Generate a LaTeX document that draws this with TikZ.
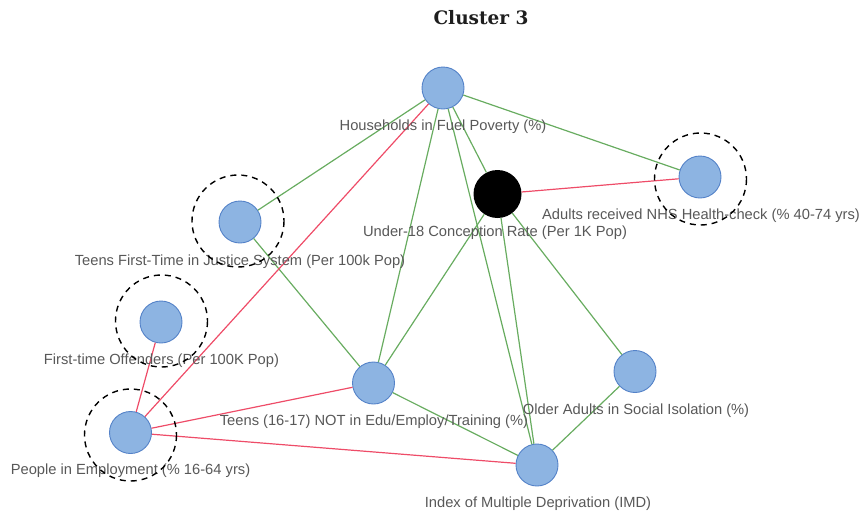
\documentclass[tikz,border=0pt]{standalone}
\usepackage{fontspec}
\setmainfont{Liberation Sans}
\newfontfamily\titlefont{DejaVu Serif}
\begin{document}
\begin{tikzpicture}[x=1pt,y=-1pt,
  vertex/.style={circle,minimum size=42pt,inner sep=0pt,fill={rgb,255:red,141;green,180;blue,226},draw={rgb,255:red,84;green,130;blue,200},line width=0.9pt},
  hub/.style={circle,minimum size=48pt,inner sep=0pt,fill=black},
  ring/.style={draw=black,dash pattern=on 6pt off 5pt,line width=1.4pt},
  plink/.style={draw={rgb,255:red,104;green,172;blue,96},line width=1.2pt},
  nlink/.style={draw={rgb,255:red,238;green,76;blue,104},line width=1.2pt},
  lbl/.style={text={rgb,255:red,88;green,88;blue,88},font=\fontsize{14.7}{16}\selectfont,inner sep=0pt}]
\useasboundingbox (0,0) rectangle (864,515);

% title
\node[font=\titlefont\bfseries\fontsize{18.5}{21}\selectfont,text={rgb,255:red,30;green,30;blue,30}] (title) at (481,18) {Cluster 3};

% nodes
\node[vertex] (fuel) at (443,88) {};
\node[hub] (conc) at (497.5,194) {};
\node[vertex] (nhs) at (700,177) {};
\node[vertex] (justice) at (240,222) {};
\node[vertex] (offend) at (161,322) {};
\node[vertex] (neet) at (373.5,383) {};
\node[vertex] (iso) at (635,371.5) {};
\node[vertex] (emp) at (130.5,432.5) {};
\node[vertex] (imd) at (537,465) {};

% connectors: green for positive, red for negative links
\path[plink] (fuel) -- (justice);
\path[plink] (fuel) -- (nhs);
\path[plink] (fuel) -- (conc);
\path[plink] (fuel) -- (neet);
\path[plink] (fuel) -- (imd);
\path[plink] (conc) -- (neet);
\path[plink] (conc) -- (imd);
\path[plink] (conc) -- (iso);
\path[plink] (justice) -- (neet);
\path[plink] (neet) -- (imd);
\path[plink] (iso) -- (imd);
\path[nlink] (fuel) -- (emp);
\path[nlink] (conc) -- (nhs);
\path[nlink] (offend) -- (emp);
\path[nlink] (emp) -- (neet);
\path[nlink] (emp) -- (imd);

% labels
\node[lbl] (fuelL) at (443,127) {Households in Fuel Poverty (\%)};
\node[lbl] (concL) at (495,233) {Under-18 Conception Rate (Per 1K Pop)};
\node[lbl] (nhsL) at (701,216) {Adults received NHS Health-check (\% 40-74 yrs)};
\node[lbl] (justiceL) at (240,261.5) {Teens First-Time in Justice System (Per 100k Pop)};
\node[lbl] (offendL) at (161.5,360.5) {First-time Offenders (Per 100K Pop)};
\node[lbl] (neetL) at (374,422) {Teens (16-17) NOT in Edu/Employ/Training (\%)};
\node[lbl] (isoL) at (636,410.5) {Older Adults in Social Isolation (\%)};
\node[lbl] (empL) at (130.5,471) {People in Employment (\% 16-64 yrs)};
\node[lbl] (imdL) at (538,504) {Index of Multiple Deprivation (IMD)};

% dashed highlight rings
\draw[ring] (700.5,179) circle (46);
\draw[ring] (238,221) circle (46);
\draw[ring] (161.5,321) circle (46);
\draw[ring] (130.5,435) circle (46);
\end{tikzpicture}
\end{document}
